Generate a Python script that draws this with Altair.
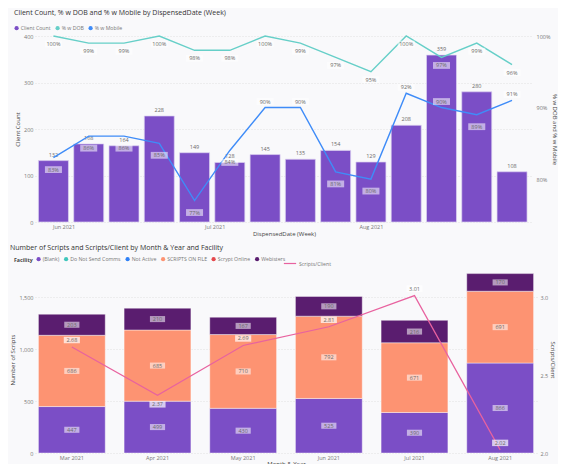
import altair as alt
import pandas as pd

# ---------------- data: top chart ----------------
weeks = ["2021-05-30", "2021-06-06", "2021-06-13", "2021-06-20", "2021-06-27",
         "2021-07-04", "2021-07-11", "2021-07-18", "2021-07-25", "2021-08-01",
         "2021-08-08", "2021-08-15", "2021-08-22", "2021-08-29"]
client_count = [132, 168, 164, 228, 149, 128, 145, 135, 154, 129, 208, 359, 280, 108]
dob_pct = [100, 99, 99, 100, 98, 98, 100, 99, 97, 95, 100, 97, 99, 96]
mobile_pct = [83, 86, 86, 85, 77, 84, 90, 90, 81, 80, 92, 90, 89, 91]
week_ticks = ["2021-06-01", "2021-07-01", "2021-08-01"]
top_series = ["Client Count", "% w DOB", "% w Mobile"]

# ---------------- data: bottom chart ----------------
months = ["Mar 2021", "Apr 2021", "May 2021", "Jun 2021", "Jul 2021", "Aug 2021"]
facilities = ["(Blank)", "Do Not Send Comms", "Not Active", "SCRIPTS ON FILE",
              "Scrypt Online", "Webisters"]
blank_scripts = [447, 499, 430, 525, 390, 866]
on_file_scripts = [686, 685, 710, 792, 671, 691]
webisters_scripts = [203, 210, 167, 190, 216, 170]
scripts_per_client = [2.68, 2.37, 2.69, 2.81, 3.01, 2.02]

# ---------------- styles ----------------
FONT = "Open Sans"
C_PURPLE = "#7b4ec6"
C_TEAL = "#66cfc8"
C_BLUE = "#3f8cf8"
C_SALMON = "#fd9372"
C_DARK = "#5a1d6f"
C_PINK = "#e8629f"
fac_colors = [C_PURPLE, "#3ec6bc", "#2e80f6", C_SALMON, "#e5484d", C_DARK]
TXT = "#6b6a68"
BOX = "M-1,-0.4L1,-0.4L1,0.4L-1,0.4Z"
LBL = 5.5


def dt(y, m, d, h=0):
    return alt.DateTime(year=y, month=m, date=d, hours=h, utc=True)


def parse(s):
    y, m, d = map(int, s.split("-"))
    return dt(y, m, d)


# ================= top chart =================
week_df = pd.DataFrame({"week": weeks, "clients": client_count,
                        "dob": dob_pct, "mobile": mobile_pct})
top_base = alt.Chart(week_df)

x_top = alt.X("week:T",
              scale=alt.Scale(type="utc", domain=[dt(2021, 5, 27, 8), dt(2021, 9, 1, 4)]),
              axis=alt.Axis(values=[parse(s) for s in week_ticks],
                            labelExpr="utcFormat(datum.value, '%b %Y')",
                            labelAngle=0, title="DispensedDate (Week)",
                            grid=False, labelPadding=2, titlePadding=1))

top_color = alt.Color(
    "series:N",
    scale=alt.Scale(domain=top_series, range=[C_PURPLE, C_TEAL, C_BLUE]),
    legend=alt.Legend(orient="none", legendX=-21, legendY=-10.5, direction="horizontal",
                      title=None, symbolType="circle", symbolSize=18, symbolStrokeWidth=0,
                      labelFontSize=5.2, columnPadding=4, labelOffset=1.5))

bars = top_base.transform_calculate(series="'Client Count'").mark_bar(
    size=30, stroke="#ddd3f1", strokeWidth=0.7).encode(
    x=x_top,
    y=alt.Y("clients:Q", scale=alt.Scale(domain=[0, 400]),
            axis=alt.Axis(values=[0, 100, 200, 300, 400], title="Client Count", grid=True,
                          labelPadding=2, titlePadding=3)),
    color=top_color)
bar_lbl = top_base.mark_text(baseline="bottom", dy=-3, fontSize=LBL, color=TXT).encode(
    x="week:T", y=alt.Y("clients:Q", title="Client Count"), text="clients:Q")
left_top = alt.layer(bars, bar_lbl)

long = top_base.transform_fold(["dob", "mobile"], as_=["key", "pct"]).transform_calculate(
    series="datum.key == 'dob' ? '% w DOB' : '% w Mobile'",
    lbl="datum.pct + '%'")
y_pct = alt.Y("pct:Q", scale=alt.Scale(domain=[75, 100]),
              axis=alt.Axis(orient="right", values=[80, 90, 100], labelExpr="datum.value + '%'",
                            title="% w DOB and % w Mobile", grid=False, labelPadding=3,
                            titlePadding=2))
lines = long.mark_line(strokeWidth=1.4).encode(x="week:T", y=y_pct, color=alt.Color("series:N"))


def label_pair(src, off, opacity=0.55):
    box = src.mark_point(shape=BOX, filled=True, fill="white", color="white", opacity=opacity,
                         size=290, yOffset=off, strokeWidth=0).encode(
        x="week:T", y=alt.Y("pct:Q", title="% w DOB and % w Mobile"))
    txt = src.mark_text(fontSize=LBL, color=TXT, dy=off).encode(
        x="week:T", y=alt.Y("pct:Q", title="% w DOB and % w Mobile"), text="lbl:N")
    return [box, txt]


dob_src = long.transform_filter("datum.key == 'dob'")
mob_src = long.transform_filter("datum.key == 'mobile'")
right_layers = [lines]
right_layers += label_pair(dob_src, 8)
right_layers += label_pair(mob_src.transform_filter("datum.pct >= 90"), -6)
right_layers += label_pair(mob_src.transform_filter("datum.pct < 90"), 12)
right_top = alt.layer(*right_layers)

top = alt.layer(left_top, right_top).resolve_scale(y="independent").properties(
    width=498, height=186,
    title=alt.Title("Client Count, % w DOB and % w Mobile by DispensedDate (Week)",
                    frame="bounds", anchor="start", offset=9.5))

# ================= bottom chart =================
rows = []
for fac, vals in [("(Blank)", blank_scripts), ("SCRIPTS ON FILE", on_file_scripts),
                  ("Webisters", webisters_scripts)]:
    for m, v in zip(months, vals):
        rows.append({"month": m, "facility": fac, "scripts": v, "ord": facilities.index(fac)})
fac_df = pd.DataFrame(rows)

stacked = alt.Chart(fac_df).transform_stack(
    stack="scripts", groupby=["month"], as_=["y0", "y1"],
    sort=[alt.SortField("ord", order="ascending")]).transform_calculate(
    mid="(datum.y0 + datum.y1) / 2")

x_bot = alt.X("month:N", sort=months,
              scale=alt.Scale(paddingInner=0.22, paddingOuter=0.04),
              axis=alt.Axis(labelAngle=0, title="Month & Year", labelPadding=2, titlePadding=0))

sbars = stacked.mark_bar(stroke="white", strokeWidth=0.6, strokeOpacity=0.7).encode(
    x=x_bot,
    y=alt.Y("y0:Q", scale=alt.Scale(domain=[0, 1800]),
            axis=alt.Axis(values=[0, 500, 1000, 1500], format=",d", title="Number of Scripts",
                          grid=True, labelPadding=2, titlePadding=3)),
    y2="y1:Q",
    color=alt.Color("facility:N", scale=alt.Scale(domain=facilities, range=fac_colors),
                    legend=alt.Legend(orient="none", legendX=-21, legendY=-9.5,
                                      direction="horizontal", title="Facility",
                                      titleOrient="left", symbolType="circle", symbolSize=18,
                                      symbolStrokeWidth=0, labelFontSize=5.2, titleFontSize=5.2,
                                      titleFontWeight="bold", titleColor="#444",
                                      columnPadding=3.5, labelOffset=1.5, titlePadding=3)))
sbox = stacked.mark_point(shape=BOX, filled=True, fill="white", color="white", opacity=0.55,
                          size=230, strokeWidth=0).encode(
    x=x_bot, y=alt.Y("mid:Q", title="Number of Scripts"))
stxt = stacked.mark_text(fontSize=LBL, color=TXT).encode(
    x=x_bot, y=alt.Y("mid:Q", title="Number of Scripts"), text="scripts:Q")
left_bot = alt.layer(sbars, sbox, stxt)

line_df = pd.DataFrame({"month": months, "spc": scripts_per_client})
lbase = alt.Chart(line_df).transform_calculate(s="'Scripts/Client'").transform_window(
    prev="lag(spc)", nxt="lead(spc)").transform_calculate(
    low="isValid(datum.prev) && isValid(datum.nxt) && datum.spc < datum.prev && datum.spc < datum.nxt",
    lbl="format(datum.spc, '.2f')")
y_spc = alt.Y("spc:Q", scale=alt.Scale(domain=[2.0, 3.2]),
              axis=alt.Axis(orient="right", values=[2.0, 2.5, 3.0], format=".1f",
                            title="Scripts/Client", grid=False, labelPadding=3, titlePadding=2))
sline = lbase.mark_line(strokeWidth=1.2).encode(
    x=x_bot, y=y_spc,
    stroke=alt.Stroke("s:N", scale=alt.Scale(domain=["Scripts/Client"], range=[C_PINK]),
                      legend=alt.Legend(orient="none", legendX=248, legendY=-9.5, title=None,
                                        symbolType="stroke", symbolSize=150, symbolStrokeWidth=1.2,
                                        labelFontSize=5.2, labelOffset=2)))


def line_label(src, off):
    box = src.mark_point(shape=BOX, filled=True, fill="white", color="white", opacity=0.7,
                         size=260, yOffset=off, strokeWidth=0).encode(
        x=x_bot, y=alt.Y("spc:Q", title="Scripts/Client"))
    txt = src.mark_text(fontSize=LBL, color=TXT, dy=off).encode(
        x=x_bot, y=alt.Y("spc:Q", title="Scripts/Client"), text="lbl:N")
    return [box, txt]


right_bot = alt.layer(sline,
                      *line_label(lbase.transform_filter("!datum.low"), -7),
                      *line_label(lbase.transform_filter("datum.low"), 9))

bottom = alt.layer(left_bot, right_bot).resolve_scale(y="independent").properties(
    width=502, height=187,
    title=alt.Title("Number of Scripts and Scripts/Client by Month & Year and Facility",
                    frame="bounds", anchor="start", offset=6))

chart = alt.vconcat(top, bottom, spacing=6).resolve_scale(
    color="independent", stroke="independent").configure(
    background="#f9f9fb", font=FONT,
    padding={"left": 1, "top": 1, "right": 0, "bottom": -3}).configure_view(
    stroke=None).configure_axis(
    labelFontSize=LBL, labelColor="#777", titleFontSize=6, titleColor="#444",
    titleFontWeight="normal", domain=False, ticks=False, gridColor="#dcdcdc",
    gridDash=[1, 2], gridWidth=0.8).configure_title(
    fontSize=7, color="#333", fontWeight="normal").configure_legend(
    labelColor="#777", labelFont=FONT, titleFont=FONT).configure_text(font=FONT)

chart.save("out.html", embed_options={"renderer": "svg", "actions": False})
